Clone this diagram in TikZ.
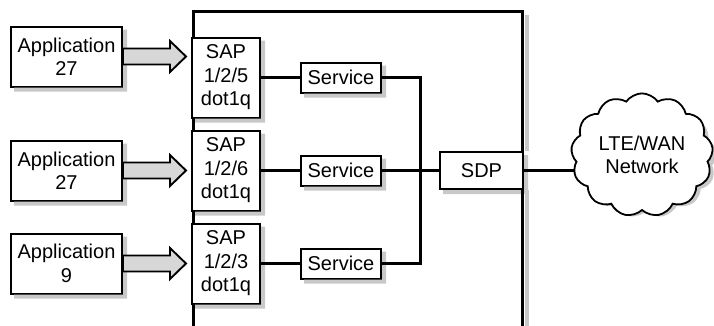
\documentclass[tikz,border=0pt]{standalone}
\usepackage{fontspec}
\setmainfont{Liberation Sans}
\usetikzlibrary{shapes.symbols,calc}

\definecolor{shadowgray}{RGB}{200,200,200}
\definecolor{arrowgray}{RGB}{215,215,215}

\begin{document}
\begin{tikzpicture}[x=1pt, y=-1pt,
    block_app/.style ={rectangle, draw=black, line width=2pt, fill=white,
      minimum width=111pt, minimum height=60pt, align=center},
    block_sap/.style ={rectangle, draw=black, line width=2pt, fill=white,
      minimum width=68pt, minimum height=80pt, align=center},
    block_svc/.style ={rectangle, draw=black, line width=2pt, fill=white,
      minimum width=80pt, minimum height=30pt},
    block_sdp/.style ={rectangle, draw=black, line width=2pt, fill=white,
      minimum width=83pt, minimum height=37pt},
    block_cloud/.style ={cloud, cloud puffs=13, cloud puff arc=110, aspect=1.2,
      draw=black, line width=1.8pt, fill=white, align=center,
      minimum width=140pt, minimum height=116pt},
    cloud_shadow/.style ={block_cloud, draw=shadowgray, fill=shadowgray},
    line/.style ={draw=black, line width=3pt, line join=miter},
    frame_shadow/.style ={draw=shadowgray, line width=4pt},
    shadow_L/.style ={fill=shadowgray, draw=none,
      to path={let \p1=(\tikztostart), \p2=(\tikztotarget) in
        (\x1,\y1-4pt) -- (\x1+4pt,\y1-4pt) -- (\x1+4pt,\y2-4pt)
        -- (\x2+4pt,\y2-4pt) -- (\x2+4pt,\y2) -- (\x1,\y2) -- cycle}},
    fatarrow/.style ={draw=black, line width=1.9pt, fill=arrowgray, line join=miter,
      to path={let \p1=(\tikztostart), \p2=(\tikztotarget) in
        (\x1,\y1+8pt) -- (\x2-21pt,\y1+8pt) -- (\x2-21pt,\y1+15.5pt)
        -- (\x2-5pt,\y1) -- (\x2-21pt,\y1-15.5pt) -- (\x2-21pt,\y1-8pt)
        -- (\x1,\y1-8pt) -- cycle}},
    every node/.style={font=\fontsize{20}{23.5}\selectfont}]
    \useasboundingbox (0,0) rectangle (714,325);
    % boxes of the node, laid out with a matrix
    \matrix [matrix anchor=sap2.center, column sep=0pt, row sep=11pt] at (226,170.5) {
      % application 27 - row 1
      \node [block_app, yshift=21pt] (app1) {Application\\27};
      &[68pt] \node [block_sap] (sap1) {SAP\\1/2/5\\dot1q};
      &[39pt] \node [block_svc] (svc1) {Service}; \\
      % application 27 - row 2
      \node [block_app] (app2) {Application\\27};
      &[68pt] \node [block_sap] (sap2) {SAP\\1/2/6\\dot1q};
      &[39pt] \node [block_svc] (svc2) {Service};
      &[57pt] \node [block_sdp] (sdp) {SDP}; \\
      % application 9 - row 3
      \node [block_app] (app3) {Application\\9};
      &[68pt] \node [block_sap] (sap3) {SAP\\1/2/3\\dot1q};
      &[39pt] \node [block_svc] (svc3) {Service}; \\
    };% end matrix

    % frame of the node, links and shadows
    \coordinate (ftl) at (193,11);
    \coordinate (ftr) at (522,11);
    \coordinate (fbl) at (193,326);
    \coordinate (fbr) at (522,326);
    \coordinate (bus) at (420.5,170.5);
    \coordinate (wanc) at ($(sdp.east)+(118,-15.5)$);
    \draw [frame_shadow] ($(ftr)+(4.5,4)$) -- ($(sdp.north -| ftr)+(4.5,0)$);
    \draw [frame_shadow] ($(sdp.south -| ftr)+(4.5,0)$) -- ($(fbr)+(4.5,0)$);
    \path [shadow_L] (app1.north east) to (app1.south west);
    \path [shadow_L] (app2.north east) to (app2.south west);
    \path [shadow_L] (app3.north east) to (app3.south west);
    \path [shadow_L] (sap1.north east) to (sap1.south west);
    \path [shadow_L] (sap2.north east) to (sap2.south west);
    \path [shadow_L] (sap3.north east) to (sap3.south west);
    \path [shadow_L] (svc1.north east) to (svc1.south west);
    \path [shadow_L] (svc2.north east) to (svc2.south west);
    \path [shadow_L] (svc3.north east) to (svc3.south west);
    \path [shadow_L] (sdp.north east) to (sdp.south west);
    \begin{scope}[every path/.style=line]
     \path (fbl) -- (fbl |- sap3.south);
     \path (sap3.north -| ftl) -- (sap2.south -| ftl);
     \path (sap2.north -| ftl) -- (sap1.south -| ftl);
     \path (sap1.north -| ftl) -- (ftl) -- (ftr) -- (sdp.north -| ftr);
     \path (sdp.south -| ftr) -- (fbr);
     \path (sap1) -- (svc1);
     \path (sap2) -- (svc2);
     \path (sap3) -- (svc3);
     \path (svc1.east) -| (bus) |- (svc3.east);
     \path (svc2.east) -- (sdp.west);
     \path (sdp.east) -- (sdp.east -| wanc);
    \end{scope}

    % the LTE/WAN cloud
    \node [cloud_shadow] (wanshadow) at ($(wanc)+(4,4)$) {};
    \node [block_cloud] (wan) at (wanc) {LTE/WAN\\Network};

    % applications feeding the SAPs
    \draw [fatarrow] (app1.east) to (app1.east -| sap1.west);
    \draw [fatarrow] (app2.east) to (app2.east -| sap2.west);
    \draw [fatarrow] (app3.east) to (app3.east -| sap3.west);
  \end{tikzpicture}
\end{document}
